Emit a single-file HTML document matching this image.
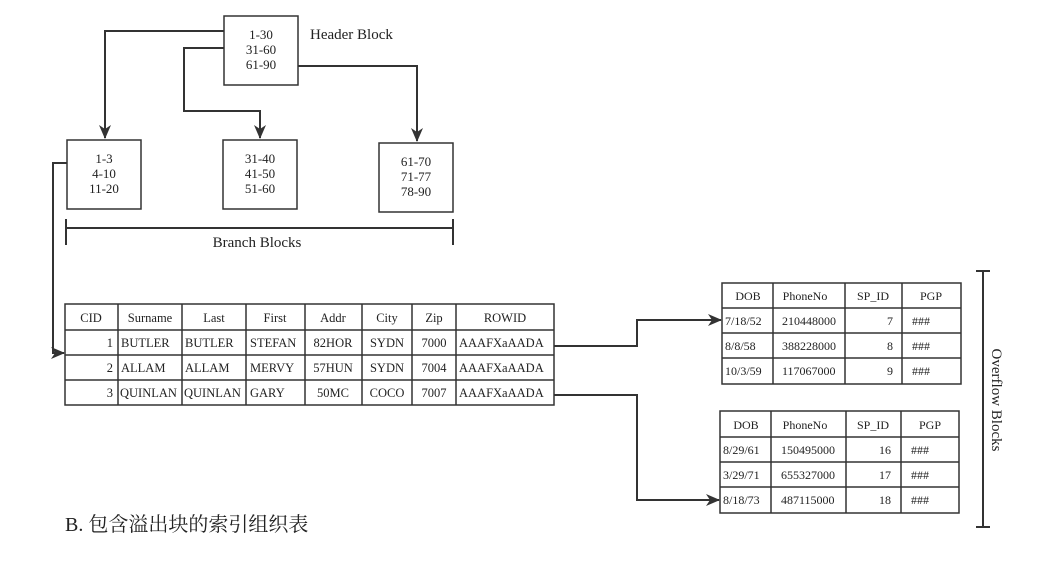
<!DOCTYPE html>
<html><head><meta charset="utf-8"><style>
html,body{margin:0;padding:0;background:#fff;}
svg{display:block;}
text{font-family:"Liberation Serif","Noto Serif CJK SC",serif;fill:#222;}
</style></head><body>
<svg width="1050" height="563" viewBox="0 0 1050 563" xmlns="http://www.w3.org/2000/svg">
<defs>
<marker id="ah" markerWidth="14" markerHeight="12" refX="13" refY="6" orient="auto" markerUnits="userSpaceOnUse">
<path d="M0,0 L14,6 L0,12 L4,6 Z" fill="#333"/>
</marker>
</defs>
<g stroke="#333" stroke-width="1.5" fill="none">
<rect x="224" y="16" width="74" height="69"/>
<rect x="67" y="140" width="74" height="69"/>
<rect x="223" y="140" width="74" height="69"/>
<rect x="379" y="143" width="74" height="69"/>
<path d="M224,31 H105 V138" stroke-width="2" marker-end="url(#ah)"/>
<path d="M224,48 H184 V111 H260 V138" stroke-width="2" marker-end="url(#ah)"/>
<path d="M298,66 H417 V141" stroke-width="2" marker-end="url(#ah)"/>
<path d="M66,228 H453 M66,219 V245 M453,219 V245" stroke-width="2"/>
<path d="M67,163 H53 V353 H64" stroke-width="2" marker-end="url(#ah)"/>
<rect x="65" y="304" width="489" height="101"/>
<path d="M65,330 H554 M65,355 H554 M65,380 H554"/>
<path d="M118,304 V405 M182,304 V405 M246,304 V405 M305,304 V405 M362,304 V405 M412,304 V405 M456,304 V405"/>
<path d="M554,346 H637 V320 H721" stroke-width="2" marker-end="url(#ah)"/>
<path d="M554,395 H637 V500 H719" stroke-width="2" marker-end="url(#ah)"/>
<rect x="722" y="283" width="239" height="101"/>
<path d="M722,308 H961 M722,333 H961 M722,358 H961"/>
<path d="M773,283 V384 M845,283 V384 M902,283 V384"/>
<rect x="720" y="411" width="239" height="102"/>
<path d="M720,437 H959 M720,462 H959 M720,487 H959"/>
<path d="M771,411 V513 M846,411 V513 M901,411 V513"/>
<path d="M983,271 V527 M976,271 H990 M976,527 H990" stroke-width="2"/>
</g>
<g font-size="13" text-anchor="middle">
<text x="261" y="39">1-30</text><text x="261" y="54">31-60</text><text x="261" y="69">61-90</text>
<text x="104" y="163">1-3</text><text x="104" y="178">4-10</text><text x="104" y="193">11-20</text>
<text x="260" y="163">31-40</text><text x="260" y="178">41-50</text><text x="260" y="193">51-60</text>
<text x="416" y="166">61-70</text><text x="416" y="181">71-77</text><text x="416" y="196">78-90</text>
</g>
<text x="310" y="39" font-size="15">Header Block</text>
<text x="257" y="247" font-size="15" text-anchor="middle">Branch Blocks</text>
<g font-size="12.5">
<g text-anchor="middle">
<text x="91" y="322">CID</text><text x="150" y="322">Surname</text><text x="214" y="322">Last</text><text x="275" y="322">First</text><text x="333" y="322">Addr</text><text x="387" y="322">City</text><text x="434" y="322">Zip</text><text x="505" y="322">ROWID</text>
<text x="434" y="347">7000</text><text x="434" y="372">7004</text><text x="434" y="397">7007</text>
<text x="333" y="347">82HOR</text><text x="333" y="372">57HUN</text><text x="333" y="397">50MC</text>
<text x="387" y="347">SYDN</text><text x="387" y="372">SYDN</text><text x="387" y="397">COCO</text>
</g>
<g text-anchor="end"><text x="113" y="347">1</text><text x="113" y="372">2</text><text x="113" y="397">3</text></g>
<text x="121" y="347">BUTLER</text><text x="121" y="372">ALLAM</text><text x="120" y="397">QUINLAN</text>
<text x="185" y="347">BUTLER</text><text x="185" y="372">ALLAM</text><text x="184" y="397">QUINLAN</text>
<text x="250" y="347">STEFAN</text><text x="250" y="372">MERVY</text><text x="250" y="397">GARY</text>
<text x="459" y="347">AAAFXaAADA</text><text x="459" y="372">AAAFXaAADA</text><text x="459" y="397">AAAFXaAADA</text>
</g>
<g font-size="12">
<g text-anchor="middle">
<text x="748" y="300">DOB</text><text x="805" y="300">PhoneNo</text><text x="873" y="300">SP_ID</text><text x="931" y="300">PGP</text>
<text x="746" y="429">DOB</text><text x="805" y="429">PhoneNo</text><text x="873" y="429">SP_ID</text><text x="930" y="429">PGP</text>
</g>
<text x="725" y="325">7/18/52</text><text x="725" y="350">8/8/58</text><text x="725" y="375">10/3/59</text>
<text x="782" y="325">210448000</text><text x="782" y="350">388228000</text><text x="782" y="375">117067000</text>
<g text-anchor="end"><text x="893" y="325">7</text><text x="893" y="350">8</text><text x="893" y="375">9</text>
<text x="891" y="454">16</text><text x="891" y="479">17</text><text x="891" y="504">18</text></g>
<text x="912" y="325">###</text><text x="912" y="350">###</text><text x="912" y="375">###</text>
<text x="723" y="454">8/29/61</text><text x="723" y="479">3/29/71</text><text x="723" y="504">8/18/73</text>
<text x="781" y="454">150495000</text><text x="781" y="479">655327000</text><text x="781" y="504">487115000</text>
<text x="911" y="454">###</text><text x="911" y="479">###</text><text x="911" y="504">###</text>
</g>
<text x="0" y="0" font-size="15" text-anchor="middle" transform="translate(992,400) rotate(90)">Overflow Blocks</text>
<text x="65" y="531" font-size="20">B. 包含溢出块的索引组织表</text>
</svg>
</body></html>
